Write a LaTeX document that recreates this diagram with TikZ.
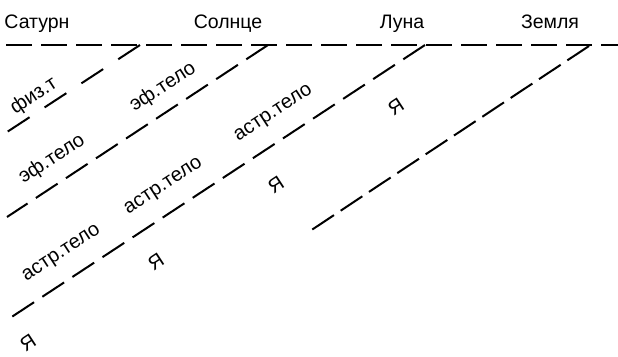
\documentclass[tikz,border=0pt]{standalone}
\usepackage{fontspec}
\setmainfont{Liberation Sans}
\begin{document}
\begin{tikzpicture}[x=1bp,y=-1bp,
  planet/.style={anchor=base,inner sep=0pt,font=\fontsize{19.5bp}{21bp}\selectfont},
  tag/.style={inner sep=0pt,rotate=33.2,font=\fontsize{20bp}{22bp}\selectfont},
  ray/.style={line width=2bp,dash pattern=on 26bp off 10bp},
  wideray/.style={line width=2bp,dash pattern=on 26bp off 18bp},
  horizon/.style={line width=2bp,dash pattern=on 26bp off 9bp}]
\useasboundingbox (0,0) rectangle (618,356);
% top labels
\node[planet] (sat) at (37,28) {Сатурн};
\node[planet] (sol) at (228,28) {Солнце};
\node[planet] (lun) at (402,28) {Луна};
\node[planet] (zem) at (550,28) {Земля};
% coordinates
\coordinate (h1) at (6,45);
\coordinate (h2) at (618,45);
\coordinate (t1) at (140,45);
\coordinate (b1) at (7,132);
\coordinate (t2) at (268,45);
\coordinate (b2) at (7,217);
\coordinate (t3) at (425,45);
\coordinate (b3) at (7,320);
\coordinate (t4) at (589,46);
\coordinate (b4) at (307,233);
% lines
\draw[horizon] (h1) -- (h2);
\draw[wideray] (t1) -- (b1);
\draw[ray] (t2) -- (b2);
\draw[ray] (t3) -- (b3);
\draw[ray,dash pattern=on 26bp off 8bp] (t4) -- (b4);
% rotated labels
\node[tag] (fiz) at (34,96) {физ.т};
\node[tag] (ef1) at (163,87) {эф.тело};
\node[tag] (ef2) at (52,159) {эф.тело};
\node[tag] (as1) at (274,114) {астр.тело};
\node[tag] (as2) at (164,187) {астр.тело};
\node[tag] (as3) at (62,254) {астр.тело};
\node[tag] (ya1) at (396,107) {Я};
\node[tag] (ya2) at (276,185) {Я};
\node[tag] (ya3) at (156,262) {Я};
\node[tag] (ya4) at (28,343) {Я};
\end{tikzpicture}
\end{document}
